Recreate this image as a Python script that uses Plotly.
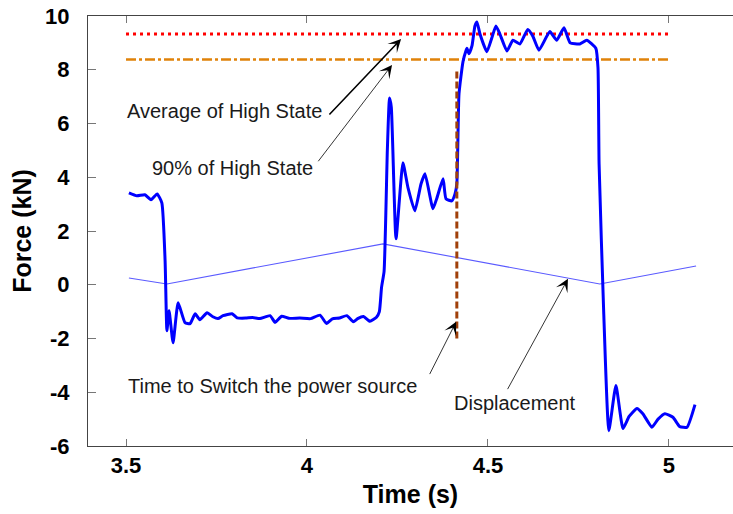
import plotly.graph_objects as go

# ---------------- data ----------------
force_t = [3.508, 3.530, 3.552, 3.569, 3.586, 3.599, 3.608, 3.613, 3.619, 3.630, 3.644,
           3.663, 3.677, 3.691, 3.704, 3.724, 3.740, 3.754, 3.768, 3.793, 3.807,
           3.83, 3.85, 3.87, 3.898, 3.912, 3.93, 3.95, 3.98, 4.01, 4.036, 4.054, 4.07,
           4.09, 4.11, 4.128, 4.14, 4.156, 4.174, 4.192, 4.200, 4.206, 4.213, 4.222,
           4.228, 4.233, 4.246, 4.265, 4.279, 4.298, 4.315, 4.326, 4.348, 4.359, 4.376,
           4.384, 4.400, 4.409, 4.414, 4.420, 4.431, 4.439, 4.442, 4.4475, 4.456, 4.464,
           4.4696, 4.478, 4.497, 4.511, 4.522, 4.533, 4.5525, 4.569, 4.588, 4.61, 4.624,
           4.641, 4.671, 4.69, 4.71, 4.727, 4.754, 4.773, 4.798, 4.804, 4.807, 4.82,
           4.834, 4.8536, 4.873, 4.89, 4.9116, 4.928, 4.953, 4.97, 4.989, 5.011, 5.030,
           5.050, 5.072]
force_kn = [3.42, 3.31, 3.35, 3.16, 3.38, 3.05, 0.89, -1.71, -0.97, -2.16, -0.67,
            -1.41, -1.45, -1.08, -1.30, -1.04, -1.19, -1.26, -1.15, -1.08, -1.23,
            -1.24, -1.22, -1.26, -1.15, -1.40, -1.17, -1.25, -1.24, -1.26, -1.13, -1.44, -1.27,
            -1.24, -1.15, -1.38, -1.26, -1.18, -1.36, -1.21, -1.0, -0.1, 0.5, 5.0,
            6.95, 6.6, 1.71, 4.54, 3.61, 2.75, 3.75, 4.13, 2.83, 3.23, 3.94,
            3.2, 3.12, 3.38, 3.75, 7.1, 8.3, 8.7, 8.8, 8.6, 8.9, 9.63,
            9.78, 9.33, 8.67, 9.2, 9.63, 9.33, 8.7, 9.1, 8.96, 9.5, 9.25,
            8.73, 9.42, 9.1, 9.56, 9.0, 8.96, 9.1, 8.8, 8.07, 4.5, -1.1,
            -5.43, -3.75, -5.35, -4.9, -4.6, -4.8, -5.3, -5.0, -4.8, -4.93, -5.28,
            -5.3, -4.46]

disp_t = [3.508, 3.613, 4.21, 4.809, 5.075]
disp_val = [0.25, 0.03, 1.52, 0.03, 0.70]

level_t = [3.5, 5.0]
avg_high = [9.33, 9.33]
ninety_high = [8.38, 8.38]

switch_t = [4.414, 4.414]
switch_y = [-2.0, 8.0]

x_ticks = [3.5, 4, 4.5, 5]
x_tick_text = ["3.5", "4", "4.5", "5"]
y_ticks = [-6, -4, -2, 0, 2, 4, 6, 8, 10]
y_tick_text = ["-6", "-4", "-2", "0", "2", "4", "6", "8", "10"]

# ---------------- figure ----------------
fig = go.Figure()

fig.add_trace(go.Scatter(x=disp_t, y=disp_val, mode="lines",
                         line=dict(color="#5a5aff", width=1.1), hoverinfo="skip"))
fig.add_trace(go.Scatter(x=level_t, y=avg_high, mode="lines",
                         line=dict(color="#ff0000", width=3, dash="3px,4px")))
fig.add_trace(go.Scatter(x=level_t, y=ninety_high, mode="lines",
                         line=dict(color="#e0820a", width=2.5, dash="10px,3px,3px,3px")))
fig.add_trace(go.Scatter(x=force_t, y=force_kn, mode="lines",
                         line=dict(color="#0000ff", width=3, shape="spline",
                                   smoothing=0.45)))
fig.add_trace(go.Scatter(x=switch_t, y=switch_y, mode="lines",
                         line=dict(color="#a0400a", width=3, dash="7px,3px")))

txt_font = dict(family="Liberation Sans, Arial, sans-serif", size=20, color="#1a1a1a")

texts = [
    ("Average of High State", 3.772, 6.47),
    ("90% of High State", 3.793, 4.35),
    ("Time to Switch the power source", 3.906, -3.75),
    ("Displacement", 4.575, -4.40),
]
for t, x, y in texts:
    fig.add_annotation(x=x, y=y, text=t, showarrow=False, xanchor="center",
                       yanchor="middle", font=txt_font)

arrows = [
    # tip x, tip y, tail x, tail y, width
    (4.26, 9.14, 4.058, 6.28, 1.6),
    (4.235, 8.18, 4.028, 4.54, 0.8),
    (4.412, -1.38, 4.337, -3.38, 0.8),
    (4.721, 0.22, 4.552, -3.94, 0.8),
]
for x, y, ax, ay, w in arrows:
    fig.add_annotation(x=x, y=y, ax=ax, ay=ay, axref="x", ayref="y", text="",
                       showarrow=True, arrowhead=3, arrowwidth=w,
                       arrowsize=13.0 / (6 * w), arrowcolor="black")

tick_font = dict(family="Liberation Sans, Arial, sans-serif", size=22, color="black",
                 weight="bold")
title_font = dict(family="Liberation Sans, Arial, sans-serif", size=25, color="black",
                  weight="bold")

fig.update_layout(
    width=733, height=514,
    margin=dict(l=88, r=0, t=16, b=68),
    paper_bgcolor="white", plot_bgcolor="white",
    showlegend=False,
    xaxis=dict(range=[3.395, 5.177], tickvals=x_ticks, ticktext=x_tick_text,
               ticks="inside", ticklen=7, tickcolor="#777", tickwidth=1,
               showline=True, linecolor="#444", linewidth=1, mirror="ticks",
               showgrid=False, zeroline=False, tickfont=tick_font,
               title=dict(text="Time (s)", font=title_font, standoff=8)),
    yaxis=dict(range=[-6, 10], tickvals=y_ticks, ticktext=y_tick_text,
               ticks="inside", ticklen=8, tickcolor="#777", tickwidth=1,
               showline=True, linecolor="#444", linewidth=1, mirror=False,
               showgrid=False, zeroline=False, tickfont=tick_font,
               ticklabelstandoff=13,
               title=dict(text="Force (kN)", font=title_font, standoff=6)),
)

fig.write_html("out.html")
